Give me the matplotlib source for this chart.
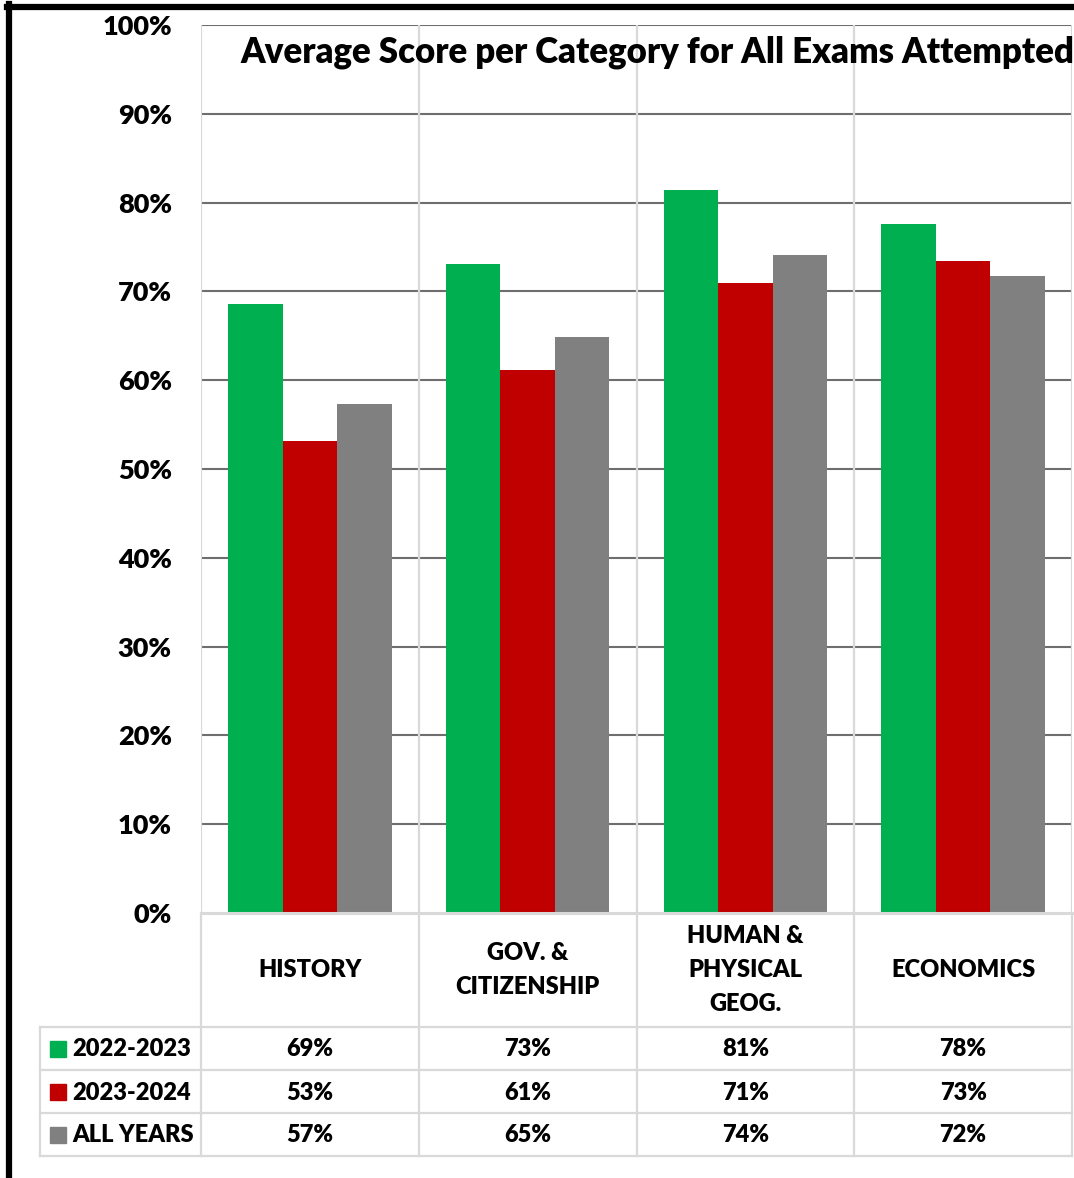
import matplotlib
matplotlib.use("Agg")
import matplotlib.pyplot as plt
from matplotlib.lines import Line2D
import numpy as np

plt.rcParams['font.family'] = ['Lato', 'DejaVu Sans']
FW = 'heavy'

categories = ['HISTORY', 'GOV. &\nCITIZENSHIP', 'HUMAN &\nPHYSICAL\nGEOG.', 'ECONOMICS']
series = ['2022-2023', '2023-2024', 'ALL YEARS']
v_2022 = [68.6, 73.1, 81.4, 77.6]
v_2023 = [53.2, 61.1, 70.9, 73.4]
v_all = [57.3, 64.9, 74.1, 71.7]
colors = ['#00b050', '#c00000', '#808080']
yticks = [0, 10, 20, 30, 40, 50, 60, 70, 80, 90, 100]

W, H = 1074, 1178
fig = plt.figure(figsize=(W / 100, H / 100), dpi=100)
fig.patch.set_facecolor('white')

def fx(px):
	return px / W

def fy(py):
	return 1 - py / H

# plot area in pixels
L, R, T, B = 201, 1072, 25, 913
ax = fig.add_axes([fx(L), fy(B), fx(R - L), (B - T) / H])
ax.set_xlim(-0.5, 3.5)
ax.set_ylim(0, 100)
for s in ax.spines.values():
	s.set_visible(False)

grid_c = '#6e6e6e'
light_c = '#d9d9d9'
for t in yticks[1:]:
	ax.axhline(t, color=grid_c, lw=1.5, zorder=1)
for b in np.arange(-0.5, 4.0, 1.0):
	ax.axvline(b, color=light_c, lw=1.6, zorder=1)

x = np.arange(len(categories))
w = 0.25
for i, vals in enumerate([v_2022, v_2023, v_all]):
	ax.bar(x + (i - 1) * w, vals, width=w, color=colors[i], zorder=2, edgecolor='none')

ax.set_xticks([])
ax.set_yticks(yticks)
ax.set_yticklabels([f'{t}%' for t in yticks], fontsize=19.5, fontweight=FW)
ax.tick_params(axis='y', length=0, pad=21)

ax.text(0.524, 0.969, 'Average Score per Category for All Exams Attempted',
	transform=ax.transAxes, ha='center', va='center', fontsize=25, fontweight=FW)

# data table below the plot
LL = 40
TB = 1156
cat_w = (R - L) / 4
tab = fig.add_axes([fx(LL), fy(TB), fx(R - LL), (TB - B) / H])
x0 = -0.5 - (L - LL) / cat_w
tab.set_xlim(x0, 3.5)
tab.set_ylim(TB - B, 0)
tab.axis('off')

rows = [0, 114, 157, 200, 243]
for b in np.arange(-0.5, 4.0, 1.0):
	tab.plot([b, b], [0, 243], color=light_c, lw=1.6, clip_on=False)
tab.plot([x0, x0], [114, 243], color=light_c, lw=1.6, clip_on=False)
tab.plot([-0.5, 3.5], [0, 0], color=light_c, lw=2.2, clip_on=False)
for r in rows[1:]:
	tab.plot([x0, 3.5], [r, r], color=light_c, lw=1.6, clip_on=False)

for i, c in enumerate(categories):
	tab.text(i, 57, c, ha='center', va='center', fontsize=17, fontweight=FW, linespacing=1.65)

sq = 16 / cat_w
for j, (name, vals) in enumerate(zip(series, [v_2022, v_2023, v_all])):
	yc = (rows[j + 1] + rows[j + 2]) / 2
	tab.add_patch(plt.Rectangle((x0 + 10 / cat_w, yc - 8), sq, 16, color=colors[j], clip_on=False))
	tab.text(x0 + 32 / cat_w, yc + 1, name, ha='left', va='center', fontsize=17, fontweight=FW)
	for i, v in enumerate(vals):
		tab.text(i, yc + 1, f'{round(v)}%', ha='center', va='center', fontsize=17, fontweight=FW)

# black frame of the chart
fig.add_artist(Line2D([fx(9), fx(9)], [fy(4), 0], color='black', lw=4.5))
fig.add_artist(Line2D([fx(7), 1], [fy(7), fy(7)], color='black', lw=4.5))

fig.savefig('out.png', dpi=100, facecolor='white')
